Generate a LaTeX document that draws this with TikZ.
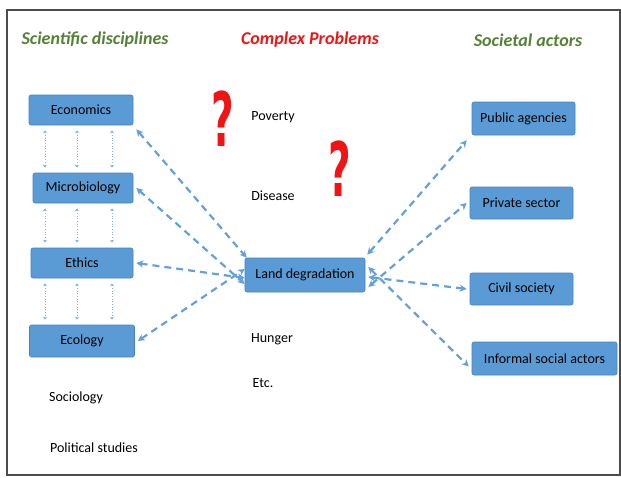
\documentclass[tikz,border=0pt]{standalone}
\usepackage{fontspec}
\usepackage{graphicx}
\setmainfont{Carlito}
\newfontfamily\markfont{DejaVu Sans}
\usetikzlibrary{arrows.meta}
\definecolor{boxblue}{RGB}{91,155,213}
\definecolor{boxedge}{RGB}{70,130,190}
\definecolor{linkblue}{RGB}{100,160,222}
\definecolor{titlegreen}{RGB}{84,130,53}
\definecolor{titlered}{RGB}{240,20,20}
\tikzset{
  x=1pt, y=-1pt,
  fieldbox/.style={draw=boxedge, fill=boxblue, rounded corners=2pt, line width=0.6pt,
    inner sep=0pt, font=\fontsize{14}{16}\selectfont, text=black},
  plain/.style={inner sep=0pt, font=\fontsize{14}{16}\selectfont, text=black},
  heading/.style={inner sep=0pt, font=\fontsize{18}{22}\selectfont\bfseries\itshape},
  query/.style={inner sep=0pt, text=titlered, font=\markfont\fontsize{50}{54}\selectfont\bfseries},
  link/.style={draw=linkblue, line width=2.2pt, dash pattern=on 7pt off 5pt,
    {Stealth[length=7pt,width=7pt]}-{Stealth[length=7pt,width=7pt]}},
  tie/.style={draw=linkblue!80, line width=0.7pt, dotted,
    {Stealth[length=3pt,width=4pt]}-{Stealth[length=3pt,width=4pt]}}
}
\begin{document}
\begin{tikzpicture}
\useasboundingbox (0,0) rectangle (621,477);
\fill[white] (0,0) rectangle (621,477);
% outer frame
\draw[black!70, line width=1.6pt] (7,10) rectangle (620,475);

% column headings
\node[heading, text=titlegreen] (hsci) at (95,40) {Scientific disciplines};
\node[heading, text=titlered] (hprob) at (310,40) {Complex Problems};
\node[heading, text=titlegreen] (hsoc) at (528,40) {Societal actors};

% scientific disciplines
\node[fieldbox, minimum width=104pt, minimum height=30pt] (eco) at (81,110) {Economics};
\node[fieldbox, minimum width=100pt, minimum height=30pt] (mic) at (83,188) {Microbiology};
\node[fieldbox, minimum width=102pt, minimum height=30pt] (eth) at (82,263) {Ethics};
\node[fieldbox, minimum width=105pt, minimum height=32pt] (ecl) at (82,341) {Ecology};
\node[plain] (soc) at (76,398) {Sociology};
\node[plain] (pol) at (94,448) {Political studies};

% complex problems
\node[plain] (pov) at (273,117) {Poverty};
\node[plain] (dis) at (273,196) {Disease};
\node[fieldbox, minimum width=120pt, minimum height=34pt] (land) at (305,275) {Land degradation};
\node[plain] (hun) at (272,339) {Hunger};
\node[plain] (etc) at (263,383) {Etc.};
\node[query] (q1) at (223,119) {\scalebox{0.78}[1.5]{?}};
\node[query] (q2) at (340,169) {\scalebox{0.78}[1.5]{?}};

% societal actors
\node[fieldbox, minimum width=103pt, minimum height=33pt] (pub) at (523.5,118.5) {Public agencies};
\node[fieldbox, minimum width=103pt, minimum height=32pt] (pri) at (521.5,203) {Private sector};
\node[fieldbox, minimum width=103pt, minimum height=32pt] (civ) at (521.5,289) {Civil society};
\node[fieldbox, minimum width=145pt, minimum height=33pt] (inf) at (544.5,358.5) {Informal social actors};

% dotted ties between neighbouring disciplines
\foreach \xx in {45,77,112}{
  \draw[tie] (\xx,0 |- eco.south) ++(0,5) -- ([yshift=5pt]\xx,0 |- mic.north);
  \draw[tie] (\xx,0 |- mic.south) ++(0,5) -- ([yshift=5pt]\xx,0 |- eth.north);
  \draw[tie] (\xx,0 |- eth.south) ++(0,5) -- ([yshift=5pt]\xx,0 |- ecl.north);
}

% links from disciplines to the problem
\draw[link] ([xshift=3pt,yshift=-4pt]eco.south east) -- ([xshift=2pt]land.north west);
\draw[link] ([xshift=3pt]eco.south east |- mic.east) -- ([yshift=-9pt]land.west);
\draw[link] ([xshift=3pt]eth.east) -- ([yshift=-3pt]land.west);
\draw[link] ([xshift=3pt]ecl.east) -- ([yshift=6pt]land.west);

% links from the problem to societal actors
\draw[link] ([xshift=2pt,yshift=3pt]land.north east) -- ([xshift=-5pt,yshift=-5pt]pub.south west);
\draw[link] ([xshift=3pt,yshift=-12pt]land.east) -- ([xshift=-3pt]pri.west);
\draw[link] ([xshift=3pt,yshift=-2pt]land.east) -- ([xshift=-3pt]civ.west);
\draw[link] ([xshift=3pt,yshift=8pt]land.east) -- ([xshift=-3pt,yshift=-8pt]inf.west);
\end{tikzpicture}
\end{document}
